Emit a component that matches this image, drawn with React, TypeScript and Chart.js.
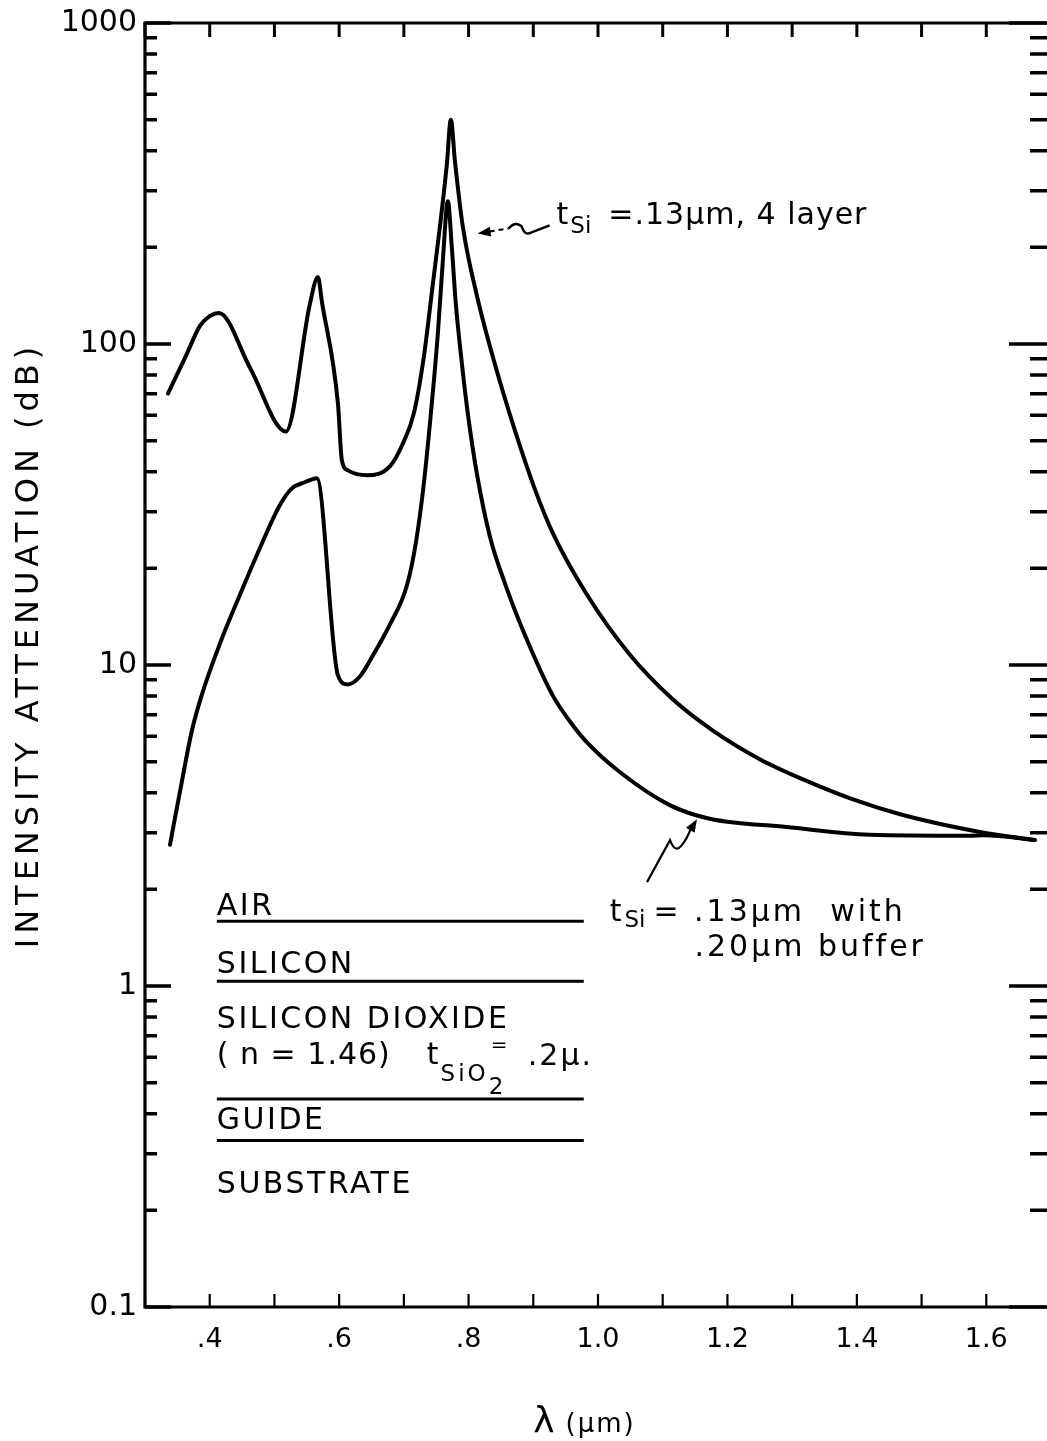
import React, { useEffect, useRef } from "react";
import { Chart, registerables } from "chart.js";

Chart.register(...registerables);

// ---- data: wavelength (µm) and intensity attenuation (dB) ----
const fourLayerX = [0.3355, 0.3633, 0.3849, 0.4004, 0.4143, 0.4622, 0.5178, 0.5548, 0.5672, 0.5734, 0.5981, 0.6042, 0.6135, 0.6429, 0.6784, 0.6985, 0.7154, 0.7309, 0.7448, 0.7571, 0.7664, 0.7726, 0.779, 0.791, 0.813, 0.8405, 0.8706, 0.902, 0.93, 0.983, 1.049, 1.1155, 1.177, 1.25, 1.316, 1.393, 1.471, 1.59, 1.675];
const fourLayerY = [70.1, 91.9, 113.9, 122.4, 125, 84.4, 53.4, 133.3, 161.7, 135.3, 65.3, 43.4, 40.4, 39.0, 41.6, 49.0, 60.8, 91.3, 153.8, 244.8, 362.5, 500, 370, 232.8, 141.1, 86.8, 54.6, 35.5, 25.8, 16.55, 10.78, 7.82, 6.26, 5.09, 4.41, 3.82, 3.41, 3.02, 2.85];

const bufferX = [0.3386, 0.3571, 0.3726, 0.388, 0.4158, 0.4467, 0.4776, 0.5085, 0.527, 0.5471, 0.5656, 0.5981, 0.6135, 0.632, 0.6521, 0.6784, 0.7046, 0.7185, 0.7309, 0.7432, 0.7525, 0.7602, 0.768, 0.7741, 0.7803, 0.788, 0.7988, 0.8127, 0.8328, 0.856, 0.8792, 0.93, 0.9564, 0.9826, 1.0336, 1.1108, 1.1726, 1.2915, 1.4197, 1.5741, 1.5973, 1.675];
const bufferY = [2.754, 4.35, 6.26, 8.1, 11.66, 16.55, 23.15, 31.5, 35.5, 37.1, 38.2, 9.28, 8.7, 9.21, 10.7, 13.36, 17.65, 24.0, 36.8, 65.3, 107.6, 181.3, 278.2, 200.4, 133.3, 93.3, 60.8, 39.6, 25.2, 18.0, 13.55, 8.04, 6.68, 5.75, 4.64, 3.66, 3.32, 3.13, 2.96, 2.94, 2.95, 2.85];

// ---- axes ----
const xMin = 0.3;
const xMax = 1.7;
const yMin = 0.1;
const yMax = 1000;
const xTickValues = [0.4, 0.6, 0.8, 1.0, 1.2, 1.4, 1.6];
const xTickLabels = [".4", ".6", ".8", "1.0", "1.2", "1.4", "1.6"];
const xMinorTicks = [0.3, 0.4, 0.5, 0.6, 0.7, 0.8, 0.9, 1.0, 1.1, 1.2, 1.3, 1.4, 1.5, 1.6, 1.7];
const yTickValues = [0.1, 1, 10, 100, 1000];
const yTickLabels = ["0.1", "1", "10", "100", "1000"];
const yMinorSteps = [2, 3, 4, 5, 6, 7, 8, 9];

const yAxisTitle = "INTENSITY ATTENUATION (dB)";
const xAxisSymbol = "λ";
const xAxisUnit = "(μm)";

// ---- layer sketch (data coordinates) ----
const layerNames = ["AIR", "SILICON", "SILICON DIOXIDE", "( n = 1.46)", "GUIDE", "SUBSTRATE"];
const layerNameY = [1.67, 1.1, 0.74, 0.571, 0.359, 0.226];
const layerBoundaryY = [1.59, 1.035, 0.445, 0.33];
const layerLeftX = 0.411;
const layerRightX = 0.978;
const oxideThicknessAt = { x: 0.7355, y: 0.571 };

// ---- curve notes (data coordinates) ----
const note4Layer = { x: 0.936, y: 236 };
const noteBuffer1 = { x: 1.018, y: 1.59 };
const noteBuffer2 = { x: 1.149, y: 1.236 };
const arrow4LayerTip = { x: 0.814, y: 221 };
const arrowBufferTip = { x: 1.153, y: 3.31 };

const FONT = '"DejaVu Sans", sans-serif';

type Run = { t: string; size: number; dy?: number; gap?: number; ls?: number };

function drawRuns(ctx: CanvasRenderingContext2D, x: number, y: number, runs: Run[]) {
  let cx = x;
  for (const r of runs) {
    cx += r.gap || 0;
    ctx.font = `${r.size}px ${FONT}`;
    (ctx as any).letterSpacing = `${r.ls || 0}px`;
    ctx.fillText(r.t, cx, y + (r.dy || 0));
    cx += ctx.measureText(r.t).width;
  }
  (ctx as any).letterSpacing = "0px";
}

function arrowHead(ctx: CanvasRenderingContext2D, tx: number, ty: number, fx: number, fy: number, len: number, half: number) {
  const ang = Math.atan2(ty - fy, tx - fx);
  const bx = tx - Math.cos(ang) * len;
  const by = ty - Math.sin(ang) * len;
  ctx.beginPath();
  ctx.moveTo(tx, ty);
  ctx.lineTo(bx + Math.sin(ang) * half, by - Math.cos(ang) * half);
  ctx.lineTo(bx - Math.sin(ang) * half, by + Math.cos(ang) * half);
  ctx.closePath();
  ctx.fill();
}

const decorPlugin = {
  id: "decor",
  afterDraw(chart: any) {
    const { ctx, chartArea: a } = chart;
    const xs = chart.scales.x;
    const ys = chart.scales.y;
    const px = (v: number) => xs.getPixelForValue(v);
    const py = (v: number) => ys.getPixelForValue(v);
    ctx.save();
    ctx.strokeStyle = "#000";
    ctx.fillStyle = "#000";
    ctx.lineCap = "butt";

    // frame
    ctx.lineWidth = 3.2;
    ctx.beginPath();
    ctx.moveTo(a.right, a.top);
    ctx.lineTo(a.left, a.top);
    ctx.lineTo(a.left, a.bottom);
    ctx.lineTo(a.right, a.bottom);
    ctx.lineTo(a.right, a.top);
    ctx.stroke();

    // y ticks (inward, both sides)
    ctx.lineWidth = 3.5;
    for (const dec of yTickValues) {
      const yy = py(dec);
      ctx.beginPath();
      ctx.moveTo(a.left, yy); ctx.lineTo(a.left + 26, yy);
      ctx.moveTo(a.right, yy); ctx.lineTo(a.right - 42, yy);
      ctx.stroke();
      if (dec < yMax) {
        for (const m of yMinorSteps) {
          const ym = py(dec * m);
          ctx.beginPath();
          ctx.moveTo(a.left, ym); ctx.lineTo(a.left + 12, ym);
          ctx.moveTo(a.right, ym); ctx.lineTo(a.right - 21, ym);
          ctx.stroke();
        }
      }
    }
    // x ticks (inward, top and bottom)
    for (const v of xMinorTicks) {
      const xx = px(v);
      ctx.lineWidth = 2.2;
      ctx.beginPath();
      ctx.moveTo(xx, a.bottom); ctx.lineTo(xx, a.bottom - 13);
      ctx.stroke();
      ctx.lineWidth = 3;
      ctx.beginPath();
      ctx.moveTo(xx, a.top); ctx.lineTo(xx, a.top + 14);
      ctx.stroke();
    }

    ctx.textAlign = "left";
    ctx.textBaseline = "alphabetic";

    // y-axis title
    ctx.save();
    ctx.translate(30, 645);
    ctx.rotate(-Math.PI / 2);
    ctx.textAlign = "center";
    ctx.textBaseline = "middle";
    ctx.font = `32px ${FONT}`;
    (ctx as any).letterSpacing = "5px";
    ctx.fillText(yAxisTitle, 0, 0);
    (ctx as any).letterSpacing = "0px";
    ctx.restore();

    // x-axis title
    drawRuns(ctx, px(0.9), 1432, [
      { t: xAxisSymbol, size: 36 },
      { t: xAxisUnit, size: 26, gap: 11, ls: 2 },
    ]);

    // layer sketch
    ctx.lineWidth = 3;
    for (const b of layerBoundaryY) {
      ctx.beginPath();
      ctx.moveTo(px(layerLeftX), py(b));
      ctx.lineTo(px(layerRightX), py(b));
      ctx.stroke();
    }
    layerNames.forEach((n, i) => {
      drawRuns(ctx, px(layerLeftX), py(layerNameY[i]), [{ t: n, size: 30, ls: i === 3 ? 1 : 2.5 }]);
    });
    const ox = px(oxideThicknessAt.x);
    const oy = py(oxideThicknessAt.y);
    drawRuns(ctx, ox, oy, [
      { t: "t", size: 30 },
      { t: "SiO", size: 23, dy: 17, gap: 2, ls: 3 },
      { t: "2", size: 23, dy: 30, gap: 0 },
    ]);
    drawRuns(ctx, ox + 64, oy - 13, [{ t: "=", size: 20 }]);
    drawRuns(ctx, ox + 101, oy + 1, [{ t: ".2μ.", size: 30, ls: 2 }]);

    // note: 4 layer
    drawRuns(ctx, px(note4Layer.x), py(note4Layer.y), [
      { t: "t", size: 30 },
      { t: "Si", size: 23, dy: 9, gap: 2 },
      { t: "=.13μm, 4 layer", size: 30, gap: 17, ls: 1 },
    ]);
    // note: buffer
    drawRuns(ctx, px(noteBuffer1.x), py(noteBuffer1.y), [
      { t: "t", size: 30 },
      { t: "Si", size: 23, dy: 6, gap: 3 },
      { t: "= .13μm  with", size: 30, gap: 8, ls: 3 },
    ]);
    drawRuns(ctx, px(noteBuffer2.x), py(noteBuffer2.y), [{ t: ".20μm buffer", size: 30, ls: 3 }]);

    // arrow to 4 layer curve
    const t1x = px(arrow4LayerTip.x);
    const t1y = py(arrow4LayerTip.y);
    arrowHead(ctx, t1x, t1y, t1x + 14, t1y - 2, 13, 5);
    ctx.lineWidth = 2;
    ctx.setLineDash([5, 4]);
    ctx.beginPath();
    ctx.moveTo(t1x + 12, t1y - 2);
    ctx.lineTo(t1x + 31, t1y - 5);
    ctx.stroke();
    ctx.setLineDash([]);
    ctx.lineWidth = 2.5;
    ctx.beginPath();
    ctx.moveTo(t1x + 31, t1y - 5);
    ctx.quadraticCurveTo(t1x + 38, t1y - 13, t1x + 44, t1y - 7);
    ctx.quadraticCurveTo(t1x + 47, t1y + 3, t1x + 54, t1y - 1);
    ctx.lineTo(t1x + 72, t1y - 8);
    ctx.stroke();

    // arrow to buffer curve
    const t2x = px(arrowBufferTip.x);
    const t2y = py(arrowBufferTip.y);
    ctx.lineWidth = 2.2;
    ctx.beginPath();
    ctx.moveTo(t2x - 50, t2y + 63);
    ctx.lineTo(t2x - 27, t2y + 21);
    ctx.quadraticCurveTo(t2x - 22, t2y + 34, t2x - 16, t2y + 27);
    ctx.quadraticCurveTo(t2x - 10, t2y + 20, t2x - 6, t2y + 9);
    ctx.stroke();
    arrowHead(ctx, t2x, t2y, t2x - 6, t2y + 10, 13, 5);

    ctx.restore();
  },
};

export default function App() {
  const ref = useRef<HTMLCanvasElement | null>(null);

  useEffect(() => {
    const canvas = ref.current;
    if (!canvas) return;
    const lineStyle = {
      borderColor: "#000",
      borderWidth: 4,
      pointRadius: 0,
      fill: false,
      cubicInterpolationMode: "monotone" as const,
      borderJoinStyle: "round" as const,
      borderCapStyle: "round" as const,
    };
    const chart = new Chart(canvas, {
      type: "line",
      data: {
        datasets: [
          { label: "tSi = .13 µm, 4 layer", data: fourLayerX.map((x, i) => ({ x, y: fourLayerY[i] })), ...lineStyle },
          { label: "tSi = .13 µm with .20 µm buffer", data: bufferX.map((x, i) => ({ x, y: bufferY[i] })), ...lineStyle },
        ],
      },
      options: {
        responsive: false,
        animation: false,
        devicePixelRatio: 1,
        layout: { padding: { left: 0, top: 18, right: 9, bottom: 0 } },
        plugins: { legend: { display: false }, tooltip: { enabled: false } },
        scales: {
          x: {
            type: "linear",
            min: xMin,
            max: xMax,
            afterBuildTicks: (s: any) => {
              s.ticks = xTickValues.map((v) => ({ value: v }));
            },
            afterFit: (s: any) => {
              s.height = 134;
            },
            grid: { display: false, drawTicks: false },
            border: { display: false },
            ticks: {
              autoSkip: false,
              maxRotation: 0,
              padding: 19,
              color: "#000",
              font: { family: "DejaVu Sans", size: 27, lineHeight: 1 },
              callback: (v: any) => {
                const i = xTickValues.findIndex((t) => Math.abs(t - Number(v)) < 1e-9);
                return i >= 0 ? xTickLabels[i] : "";
              },
            },
          },
          y: {
            type: "logarithmic",
            min: yMin,
            max: yMax,
            afterBuildTicks: (s: any) => {
              s.ticks = yTickValues.map((v) => ({ value: v, major: true }));
            },
            afterFit: (s: any) => {
              s.width = 145;
            },
            grid: { display: false, drawTicks: false },
            border: { display: false },
            ticks: {
              autoSkip: false,
              padding: 8,
              color: "#000",
              font: { family: "DejaVu Sans", size: 30, lineHeight: 1 },
              callback: (v: any) => {
                const i = yTickValues.findIndex((t) => Math.abs(t - Number(v)) < 1e-9 * Math.max(1, t));
                return i >= 0 ? yTickLabels[i] : "";
              },
            },
          },
        },
      },
      plugins: [decorPlugin],
    } as any);
    return () => chart.destroy();
  }, []);

  return (
    <div
      style={{
        position: "absolute",
        left: 0,
        top: 0,
        width: 1047,
        height: 1441,
        overflow: "hidden",
        background: "#fff",
      }}
    >
      <canvas ref={ref} width={1060} height={1441} style={{ display: "block", width: 1060, height: 1441 }} />
    </div>
  );
}
